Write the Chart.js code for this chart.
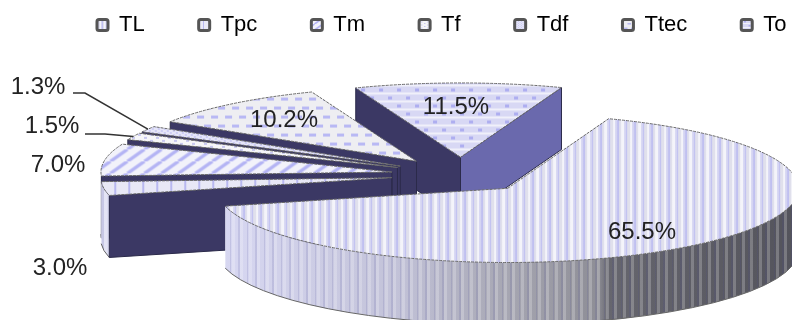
<!DOCTYPE html>
<html>
<head>
<meta charset="utf-8">
<title>Pie</title>
<script src="https://cdn.jsdelivr.net/npm/chart.js@4/dist/chart.umd.min.js"></script>
<style>
    html,body{margin:0;padding:0;background:#fff;overflow:hidden;}
    canvas{display:block;}
</style>
</head>
<body>
<canvas id="pieChart" width="792" height="320"></canvas>
<script>
const categories=['TL','Tpc','Tm','Tf','Tdf','Ttec','To'];
const shares=[65.5,3.0,7.0,1.5,1.3,10.2,11.5];
const tiles=['stripes','grid','diagonal','sparseDots','denseDots','dashes','bricks'];
const labelSpots=[[642,232],[60,268],[58,165],[52,126],[38,87],[284,120],[456,107]];
// elbow of the leader line, for the two labels too small to sit on their slice
const leaders={3:[[85,134],[105,134]],4:[[73,93],[85,93]]};

const PIE={x:461,y:175,radius:291,squash:0.255,explode:70,depth:62,startDeg:20.3};

function tile(w,h,paint){
    const c=document.createElement('canvas');
    c.width=w;c.height=h;
    paint(c.getContext('2d'));
    return c;
}

const painters={
    stripes:()=>tile(17,1,g=>{
        g.fillStyle='#f4f4fa';g.fillRect(0,0,17,1);
        g.fillStyle='#c0c0f0';g.fillRect(0,0,2,1);g.fillRect(9,0,1,1);
        g.fillStyle='#e0e0ec';g.fillRect(2,0,2,1);g.fillRect(10,0,3,1);
        g.fillStyle='#d4d4f2';g.fillRect(7,0,2,1);g.fillRect(15,0,2,1);
    }),
    grid:()=>tile(14,1,g=>{
        g.fillStyle='#e8e8f6';g.fillRect(0,0,14,1);
        g.fillStyle='#b8b8f0';g.fillRect(0,0,2,1);
    }),
    diagonal:()=>tile(17,12,g=>{
        g.fillStyle='#f2f2fa';g.fillRect(0,0,17,12);
        g.strokeStyle='#b4b4f4';g.lineWidth=3.4;
        [[0,12,17,0],[-17,12,0,0],[17,12,34,0]].forEach(l=>{
            g.beginPath();g.moveTo(l[0],l[1]);g.lineTo(l[2],l[3]);g.stroke();
        });
    }),
    sparseDots:()=>tile(12,6,g=>{
        g.fillStyle='#f6f6f8';g.fillRect(0,0,12,6);
        g.fillStyle='#c8c8f0';g.fillRect(2,1,3,2);g.fillRect(8,4,3,2);
    }),
    denseDots:()=>tile(6,4,g=>{
        g.fillStyle='#e6e6f8';g.fillRect(0,0,6,4);
        g.fillStyle='#b4b4f0';g.fillRect(1,1,2,1);g.fillRect(4,3,2,1);
    }),
    dashes:()=>tile(14,18,g=>{
        g.fillStyle='#eeeef2';g.fillRect(0,0,14,18);
        g.fillStyle='#b8b8f4';g.fillRect(2,1,7,3);g.fillRect(9,10,7,3);g.fillRect(-5,10,7,3);
    }),
    bricks:()=>tile(18,16,g=>{
        g.fillStyle='#d8d8f4';g.fillRect(0,0,18,16);
        g.fillStyle='#f0f0fa';g.fillRect(0,6,18,2);g.fillRect(0,14,18,2);
        g.fillStyle='#aeaef0';g.fillRect(3,2,4,3);g.fillRect(12,10,4,3);
    })
};

const page=document.getElementById('pieChart').getContext('2d');

function pattern(kind,scaleX,scaleY){
    const p=page.createPattern(painters[kind](),'repeat');
    p.setTransform(new DOMMatrix().scale(scaleX,scaleY));
    return p;
}

const sliceFills=tiles.map(k=>pattern(k,1,1/PIE.squash));
const legendFills=tiles.map(k=>pattern(k,0.5,0.5));
const rimStripes=page.createPattern(tile(17,1,g=>{
    g.fillStyle='rgba(255,255,255,.22)';g.fillRect(2,0,3,1);g.fillRect(11,0,3,1);
    g.fillStyle='rgba(70,70,150,.14)';g.fillRect(0,0,2,1);g.fillRect(9,0,1,1);
}),'repeat');

function apexOf(arc){
    const mid=(arc.startAngle+arc.endAngle)/2;
    return {
        x:PIE.x+Math.cos(mid)*PIE.explode,
        y:PIE.y+Math.sin(mid)*PIE.explode*PIE.squash
    };
}

function rimPoint(apex,angle,r){
    return {x:apex.x+Math.cos(angle)*r,y:apex.y+Math.sin(angle)*r*PIE.squash};
}

function drawSideWall(ctx,apex,angle,r,color){
    const p=rimPoint(apex,angle,r);
    ctx.beginPath();
    ctx.moveTo(apex.x,apex.y);
    ctx.lineTo(p.x,p.y);
    ctx.lineTo(p.x,p.y+PIE.depth);
    ctx.lineTo(apex.x,apex.y+PIE.depth);
    ctx.closePath();
    ctx.fillStyle=color;
    ctx.fill();
    ctx.strokeStyle='#2b2a4a';
    ctx.lineWidth=1;
    ctx.stroke();
}

function drawRim(ctx,apex,from,to,r){
    for(let n=-1;n<=1;n++){
        const a=Math.max(from,n*2*Math.PI);
        const b=Math.min(to,n*2*Math.PI+Math.PI);
        if(b<=a)continue;
        const ry=r*PIE.squash;
        ctx.beginPath();
        ctx.ellipse(apex.x,apex.y,r,ry,0,a,b);
        ctx.ellipse(apex.x,apex.y+PIE.depth,r,ry,0,b,a,true);
        ctx.closePath();
        const shade=ctx.createLinearGradient(100,0,792,0);
        shade.addColorStop(0,'#dcdcf2');
        shade.addColorStop(0.2,'#d6d6f0');
        shade.addColorStop(0.43,'#c2c2d8');
        shade.addColorStop(0.58,'#a8a8b4');
        shade.addColorStop(0.72,'#8e8e96');
        shade.addColorStop(0.735,'#66666e');
        shade.addColorStop(1,'#54545c');
        ctx.fillStyle=shade;
        ctx.fill();
        ctx.fillStyle=rimStripes;
        ctx.fill();
        ctx.strokeStyle='#666';
        ctx.lineWidth=1;
        ctx.beginPath();
        ctx.ellipse(apex.x,apex.y+PIE.depth,r,ry,0,a,b);
        ctx.stroke();
    }
}

function drawSliceTop(ctx,arc,apex){
    ctx.save();
    ctx.translate(apex.x,apex.y);
    ctx.scale(1,PIE.squash);
    ctx.translate(-arc.x,-arc.y);
    arc.draw(ctx);
    ctx.restore();

    ctx.beginPath();
    ctx.moveTo(apex.x,apex.y);
    ctx.ellipse(apex.x,apex.y,arc.outerRadius,arc.outerRadius*PIE.squash,0,arc.startAngle,arc.endAngle);
    ctx.closePath();
    ctx.strokeStyle='#6a6a6a';
    ctx.lineWidth=1;
    ctx.setLineDash([3,1]);
    ctx.stroke();
    ctx.setLineDash([]);
}

// painter's order: last slice sits furthest back
const pie3d={
    id:'pie3d',
    beforeDatasetDraw(chart,args){
        const ctx=chart.ctx;
        const arcs=args.meta.data;
        for(let i=arcs.length-1;i>=0;i--){
            const arc=arcs[i];
            const apex=apexOf(arc);
            const r=arc.outerRadius;
            drawRim(ctx,apex,arc.startAngle,arc.endAngle,r);
            if(Math.cos(arc.startAngle)<0)drawSideWall(ctx,apex,arc.startAngle,r,'#3b3864');
            if(Math.cos(arc.endAngle)>0)drawSideWall(ctx,apex,arc.endAngle,r,'#6a69ad');
            drawSliceTop(ctx,arc,apex);
        }
        return false;
    },
    afterDatasetsDraw(chart){
        const ctx=chart.ctx;
        const arcs=chart.getDatasetMeta(0).data;
        ctx.save();
        ctx.strokeStyle='#333';
        ctx.lineWidth=1.5;
        Object.keys(leaders).forEach(i=>{
            const arc=arcs[i];
            const end=rimPoint(apexOf(arc),(arc.startAngle+arc.endAngle)/2,arc.outerRadius);
            ctx.beginPath();
            ctx.moveTo(leaders[i][0][0],leaders[i][0][1]);
            ctx.lineTo(leaders[i][1][0],leaders[i][1][1]);
            ctx.lineTo(end.x,end.y);
            ctx.stroke();
        });
        ctx.fillStyle='#222';
        ctx.font='24px "Liberation Sans"';
        ctx.textAlign='center';
        ctx.textBaseline='middle';
        shares.forEach((v,i)=>{
            ctx.fillText(v.toFixed(1)+'%',labelSpots[i][0],labelSpots[i][1]);
        });
        ctx.restore();
    }
};

new Chart(page,{
    type:'pie',
    data:{
        labels:categories,
        datasets:[{
            data:shares,
            backgroundColor:sliceFills,
            borderWidth:0
        }]
    },
    options:{
        responsive:false,
        animation:false,
        rotation:PIE.startDeg,
        radius:PIE.radius,
        layout:{padding:{left:43,right:-100,top:-40}},
        plugins:{
            tooltip:{enabled:false},
            legend:{
                position:'top',
                align:'start',
                labels:{
                    boxWidth:11,
                    boxHeight:11,
                    padding:54,
                    color:'#222',
                    font:{family:'"Liberation Sans"',size:22},
                    generateLabels:()=>categories.map((name,i)=>({
                        text:name,
                        fillStyle:legendFills[i],
                        strokeStyle:'#555',
                        lineWidth:3,
                        borderRadius:2,
                        index:i
                    })),
                    useBorderRadius:true,
                    borderRadius:2
                }
            }
        }
    },
    plugins:[pie3d]
});
</script>
</body>
</html>
